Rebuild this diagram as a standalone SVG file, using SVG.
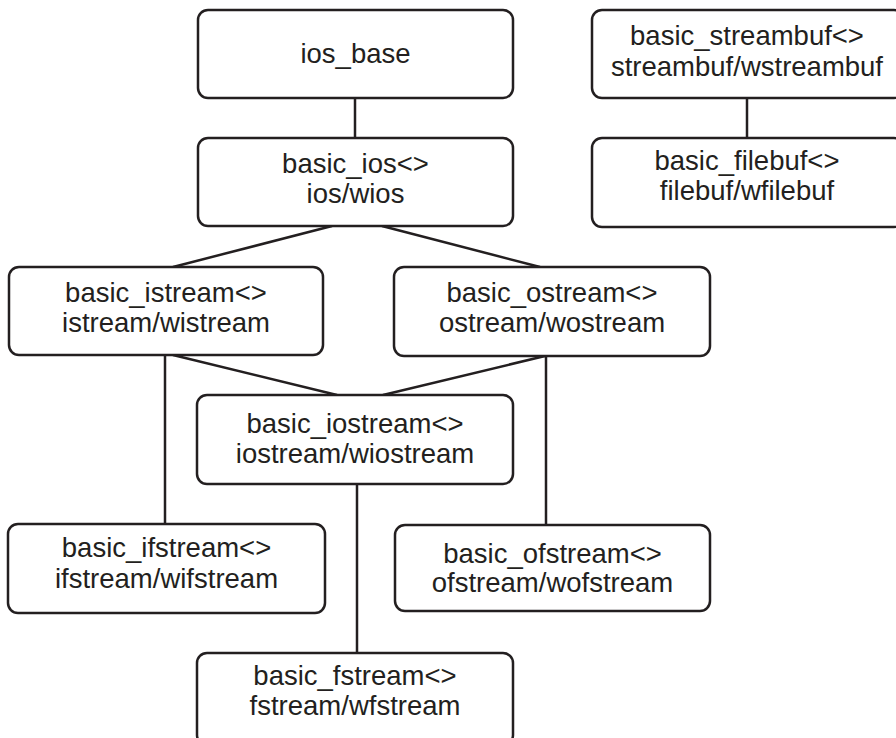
<svg xmlns="http://www.w3.org/2000/svg" width="896" height="738" viewBox="0 0 896 738">
<style>
.box{fill:#ffffff;stroke:#231f20;stroke-width:2.5}
.lbl{font-family:"Liberation Sans",Arial,sans-serif;font-size:27.5px;fill:#231f20;text-anchor:middle}
.con line{stroke:#231f20;stroke-width:2.5;fill:none}
</style>
<rect width="896" height="738" fill="#ffffff"/>
<g id="connectors" class="con">
<line x1="355" y1="98" x2="355" y2="138"/>
<line x1="747" y1="98" x2="747" y2="138"/>
<line x1="332" y1="226" x2="173" y2="267"/>
<line x1="382" y1="226" x2="540" y2="267"/>
<line x1="173" y1="355" x2="337" y2="395"/>
<line x1="545" y1="356" x2="383" y2="395"/>
<line x1="165" y1="355" x2="165" y2="524"/>
<line x1="546" y1="356" x2="546" y2="525"/>
<line x1="357" y1="484" x2="357" y2="653"/>
</g>
<g id="ios_base">
<rect class="box" x="198" y="10" width="315" height="88" rx="10"/>
<text class="lbl" x="355.5" y="63">ios_base</text>
</g>
<g id="basic_streambuf">
<rect class="box" x="592" y="10" width="312" height="88" rx="10"/>
<text class="lbl" x="747" y="45">basic_streambuf&lt;&gt;</text>
<text class="lbl" x="747" y="76">streambuf/wstreambuf</text>
</g>
<g id="basic_ios">
<rect class="box" x="198" y="138" width="315" height="88" rx="10"/>
<text class="lbl" x="355.5" y="173">basic_ios&lt;&gt;</text>
<text class="lbl" x="355.5" y="203">ios/wios</text>
</g>
<g id="basic_filebuf">
<rect class="box" x="592" y="138" width="312" height="89" rx="10"/>
<text class="lbl" x="747" y="170">basic_filebuf&lt;&gt;</text>
<text class="lbl" x="747" y="200">filebuf/wfilebuf</text>
</g>
<g id="basic_istream">
<rect class="box" x="9" y="267" width="314" height="88" rx="10"/>
<text class="lbl" x="166" y="302">basic_istream&lt;&gt;</text>
<text class="lbl" x="166" y="332">istream/wistream</text>
</g>
<g id="basic_ostream">
<rect class="box" x="394" y="267" width="316" height="89" rx="10"/>
<text class="lbl" x="552" y="302">basic_ostream&lt;&gt;</text>
<text class="lbl" x="552" y="332">ostream/wostream</text>
</g>
<g id="basic_iostream">
<rect class="box" x="197" y="395" width="316" height="89" rx="10"/>
<text class="lbl" x="355" y="433">basic_iostream&lt;&gt;</text>
<text class="lbl" x="355" y="463">iostream/wiostream</text>
</g>
<g id="basic_ifstream">
<rect class="box" x="8" y="524" width="317" height="89" rx="10"/>
<text class="lbl" x="166.5" y="557">basic_ifstream&lt;&gt;</text>
<text class="lbl" x="166.5" y="588">ifstream/wifstream</text>
</g>
<g id="basic_ofstream">
<rect class="box" x="395" y="525" width="315" height="86" rx="10"/>
<text class="lbl" x="552.5" y="563">basic_ofstream&lt;&gt;</text>
<text class="lbl" x="552.5" y="592">ofstream/wofstream</text>
</g>
<g id="basic_fstream">
<rect class="box" x="197" y="653" width="316" height="92" rx="10"/>
<text class="lbl" x="355" y="685">basic_fstream&lt;&gt;</text>
<text class="lbl" x="355" y="715">fstream/wfstream</text>
</g>
</svg>
